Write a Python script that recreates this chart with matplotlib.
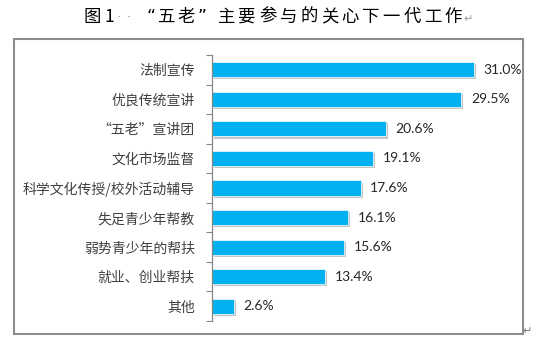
import matplotlib
matplotlib.use("Agg")
import matplotlib.pyplot as plt
import matplotlib.patheffects as pe
from matplotlib.patches import Rectangle

# Survey data: share of respondents per activity type (%)
categories = ["法制宣传", "优良传统宣讲", "“五老”宣讲团", "文化市场监督",
              "科学文化传授/校外活动辅导", "失足青少年帮教", "弱势青少年的帮扶",
              "就业、创业帮扶", "其他"]
values = [31.0, 29.5, 20.6, 19.1, 17.6, 16.1, 15.6, 13.4, 2.6]
value_labels = ["31.0%", "29.5%", "20.6%", "19.1%", "17.6%", "16.1%", "15.6%", "13.4%", "2.6%"]

title_head = ["图", "1"]
title_quote = ["“", "五", "老", "”"]
title_rest = "主要参与的关心下一代工作"

W, H = 538, 340
fig = plt.figure(figsize=(W / 100, H / 100), dpi=100)
fig.patch.set_facecolor("white")

cjk = ["Noto Sans CJK SC", "DejaVu Sans"]

# outer frame
fig.patches.append(Rectangle((14 / W, 1 - 334 / H), (523 - 14) / W, (334 - 39) / H,
                             transform=fig.transFigure, fill=False,
                             edgecolor="#8c8c8c", linewidth=1.5))

ax = fig.add_axes([211.5 / W, 1 - 321 / H, (508 - 211.5) / W, (321 - 55) / H])
ypos = list(range(len(categories)))
bars = ax.barh(ypos, values, height=0.51, color="#00B0F0",
               edgecolor="#e8f6fc", linewidth=0.6)
for b in bars:
    b.set_path_effects([pe.SimplePatchShadow(offset=(1.5, -1.5), shadow_rgbFace="#7f7f7f", alpha=0.45),
                        pe.Normal()])

ax.set_xlim(0, 35)
ax.set_ylim(len(categories) - 0.5, -0.5)
ax.set_yticks(ypos)
ax.set_yticklabels(categories, fontfamily=cjk, fontsize=10, color="#404040")
ax.set_yticks([p - 0.5 for p in ypos] + [len(categories) - 0.5], minor=True)
ax.tick_params(axis="y", which="major", length=0, pad=12)
ax.tick_params(axis="y", which="minor", length=4, width=0.8, color="#868686", direction="out")
ax.set_xticks([])
for s in ["top", "right", "bottom"]:
    ax.spines[s].set_visible(False)
ax.spines["left"].set_color("#868686")
ax.spines["left"].set_linewidth(0.9)
ax.set_facecolor("none")

for y, v, lab in zip(ypos, values, value_labels):
    ax.annotate(lab, (v, y), xytext=(7, 0), textcoords="offset points",
                ha="left", va="center", fontsize=10, fontfamily="Lato", color="#262626")

# title, set with wide character spacing; grey formatting marks
ty = 1 - 17 / H
tfs = 12.5


def put(xc, s, fs=tfs, color="black", family=cjk, y=ty):
    fig.text(xc / W, y, s, ha="center", va="center", fontsize=fs,
             color=color, fontfamily=family)


for xc, ch in zip((92.5, 109.5), title_head):
    put(xc, ch)
for xc in (119, 129):
    put(xc, "·", fs=9, color="#8a8a8a", family=["DejaVu Sans"], y=1 - 18 / H)
for xc, ch in zip((151, 166.5, 186, 202), title_quote):
    put(xc, ch, family=["DejaVu Sans"] if ch in "“”" else cjk)
for i, ch in enumerate(title_rest):
    put(226.5 + i * 20.6, ch)
fig.text(463 / W, 1 - 19 / H, "↵", ha="left", va="center", fontsize=8, color="#9a9a9a", fontfamily=cjk)

fig.text(527 / W, 1 - 331 / H, "↵", ha="center", va="center", fontsize=8, color="#7f7f7f", fontfamily=cjk)

fig.savefig("out.png", dpi=100)
